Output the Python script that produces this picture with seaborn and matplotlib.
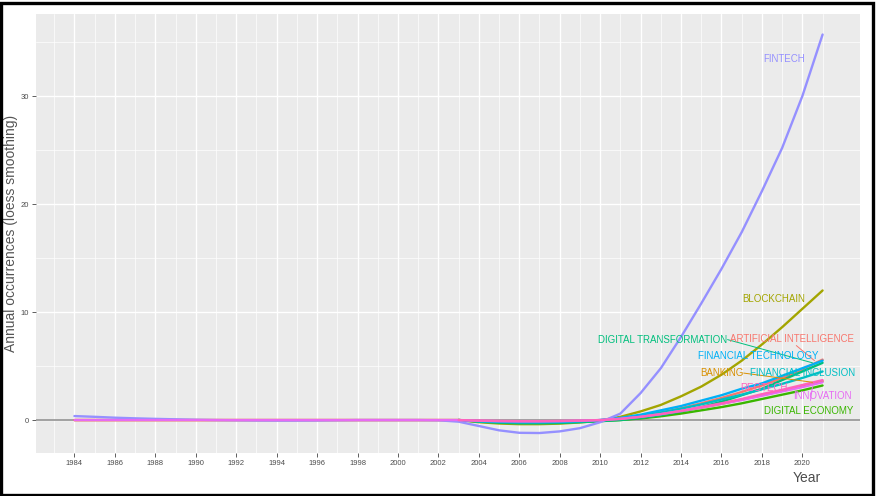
import matplotlib
matplotlib.use("Agg")
import matplotlib.pyplot as plt
import seaborn as sns
import pandas as pd
from matplotlib.patches import Rectangle

# ---------------- data ----------------
years_full = list(range(1984, 2022))
years_late = list(range(2003, 2022))

fintech = [0.37, 0.30, 0.22, 0.16, 0.11, 0.07, 0.03, 0.0, -0.02, -0.04,
           -0.05, -0.05, -0.04, -0.02, 0.0, 0.0, 0.0, 0.0, -0.02, -0.15,
           -0.55, -0.95, -1.18, -1.2, -1.05, -0.75, -0.2, 0.6, 2.5, 4.8,
           7.7, 10.8, 14.0, 17.4, 21.2, 25.2, 30.0, 35.7]
artificial_intelligence = [0.0] * 19 + [
    0.0, -0.08, -0.14, -0.17, -0.18, -0.16, -0.12, -0.05, 0.1, 0.35,
    0.7, 1.1, 1.55, 2.05, 2.6, 3.2, 3.9, 4.7, 5.6]
banking = [0.0] * 19 + [
    0.0, -0.12, -0.2, -0.24, -0.25, -0.22, -0.16, -0.05, 0.1, 0.3,
    0.55, 0.85, 1.15, 1.5, 1.9, 2.3, 2.7, 3.15, 3.6]
innovation = [0.0] * 19 + [
    0.0, -0.06, -0.1, -0.12, -0.12, -0.1, -0.06, 0.0, 0.12, 0.3,
    0.55, 0.85, 1.15, 1.5, 1.85, 2.25, 2.65, 3.05, 3.5]

blockchain = [0.0, -0.2, -0.32, -0.38, -0.38, -0.33, -0.22, -0.05, 0.3, 0.8,
              1.4, 2.2, 3.1, 4.2, 5.5, 7.0, 8.6, 10.3, 12.0]
digital_transformation = [0.0, -0.15, -0.25, -0.3, -0.3, -0.27, -0.2, -0.1, 0.0, 0.2,
                          0.45, 0.8, 1.2, 1.7, 2.3, 2.9, 3.7, 4.5, 5.3]
financial_technology = [0.0, -0.1, -0.16, -0.2, -0.2, -0.17, -0.1, 0.0, 0.2, 0.5,
                        0.9, 1.3, 1.8, 2.3, 2.9, 3.4, 4.1, 4.8, 5.5]
financial_inclusion = [0.0, -0.1, -0.15, -0.18, -0.18, -0.15, -0.1, 0.0, 0.15, 0.4,
                       0.7, 1.05, 1.45, 1.9, 2.35, 2.85, 3.35, 3.9, 4.5]
regtech = [0.0, -0.05, -0.08, -0.1, -0.1, -0.08, -0.05, 0.0, 0.1, 0.3,
           0.55, 0.85, 1.2, 1.55, 1.95, 2.4, 2.8, 3.25, 3.7]
digital_economy = [0.0, -0.1, -0.16, -0.2, -0.2, -0.18, -0.14, -0.1, 0.0, 0.15,
                   0.35, 0.6, 0.9, 1.2, 1.55, 1.95, 2.35, 2.75, 3.2]

keywords = ["ARTIFICIAL INTELLIGENCE", "BANKING", "BLOCKCHAIN", "DIGITAL ECONOMY",
            "DIGITAL TRANSFORMATION", "FINANCIAL INCLUSION", "FINANCIAL TECHNOLOGY",
            "FINTECH", "INNOVATION", "REGTECH"]
series = {
    "ARTIFICIAL INTELLIGENCE": (years_full, artificial_intelligence),
    "BANKING": (years_full, banking),
    "BLOCKCHAIN": (years_late, blockchain),
    "DIGITAL ECONOMY": (years_late, digital_economy),
    "DIGITAL TRANSFORMATION": (years_late, digital_transformation),
    "FINANCIAL INCLUSION": (years_late, financial_inclusion),
    "FINANCIAL TECHNOLOGY": (years_late, financial_technology),
    "FINTECH": (years_full, fintech),
    "INNOVATION": (years_full, innovation),
    "REGTECH": (years_late, regtech),
}
colors = ["#F8766D", "#D89000", "#A3A500", "#39B600", "#00BF7D",
          "#00BFC4", "#00B0F6", "#9590FF", "#E76BF3", "#FF62BC"]
x_breaks = list(range(1984, 2021, 2))
y_breaks = [0, 10, 20, 30]

rows = []
for kw in keywords:
    yrs, vals = series[kw]
    for yr, v in zip(yrs, vals):
        rows.append({"Year": yr, "value": v, "keyword": kw})
df = pd.DataFrame(rows)
palette = dict(zip(keywords, colors))

# label layout (repelled label positions, in data units)
label_pos = {
    "FINTECH": (2019.1, 33.4),
    "BLOCKCHAIN": (2018.6, 11.2),
    "DIGITAL TRANSFORMATION": (2013.1, 7.45),
    "ARTIFICIAL INTELLIGENCE": (2019.5, 7.5),
    "FINANCIAL TECHNOLOGY": (2017.8, 5.9),
    "BANKING": (2016.0, 4.35),
    "FINANCIAL INCLUSION": (2020.0, 4.4),
    "REGTECH": (2018.1, 3.0),
    "INNOVATION": (2021.0, 2.25),
    "DIGITAL ECONOMY": (2020.3, 0.85),
}
segments = {
    "DIGITAL TRANSFORMATION": ((2016.3, 7.45), (2020.5, 5.3)),
    "ARTIFICIAL INTELLIGENCE": ((2019.7, 6.9), (2020.6, 5.5)),
    "BANKING": ((2017.1, 4.35), (2020.5, 3.5)),
    "INNOVATION": ((2020.4, 1.8), (2020.5, 3.1)),
}

# ---------------- plot ----------------
sns.set_theme(style="white")
plt.rcParams["font.family"] = ["Liberation Sans", "DejaVu Sans"]

fig = plt.figure(figsize=(8.78, 4.96), dpi=100)
ax = fig.add_axes([36 / 878, 1 - 453 / 496, (860 - 36) / 878, (453 - 14) / 496])
ax.set_facecolor("#EBEBEB")

ax.axhline(0, color="#9A9A9A", lw=1.3, zorder=1)

sns.lineplot(data=df, x="Year", y="value", hue="keyword", hue_order=keywords,
             palette=palette, linewidth=1.7, legend=False, ax=ax, zorder=3)

for kw, (lx, ly) in label_pos.items():
    ax.text(lx, ly, kw, color=palette[kw], fontsize=7, ha="center", va="center",
            zorder=5)
for kw, ((x0, y0), (x1, y1)) in segments.items():
    ax.plot([x0, x1], [y0, y1], color=palette[kw], lw=0.7, zorder=4)

ax.set_xlim(1982.1, 2022.85)
ax.set_ylim(-3.05, 37.6)
ax.set_xticks(x_breaks)
ax.set_xticks(list(range(1983, 2023, 2)), minor=True)
ax.set_yticks(y_breaks)
ax.set_yticks([5, 15, 25, 35], minor=True)
ax.set_xticklabels([str(y) for y in x_breaks])
ax.grid(which="major", color="white", lw=1.0)
ax.grid(which="minor", color="white", lw=0.5)
ax.set_axisbelow(True)
for s in ax.spines.values():
    s.set_visible(False)
ax.tick_params(axis="both", which="major", labelsize=5.5, labelcolor="#4D4D4D",
               color="#444444", length=3, width=0.6, pad=2, bottom=True, left=True)
ax.tick_params(axis="both", which="minor", length=0)

ax.set_xlabel("Year", fontsize=10, color="#4D4D4D", ha="right")
ax.xaxis.set_label_coords((821 - 36) / 824, -0.04)
ax.set_ylabel("Annual occurrences (loess smoothing)", fontsize=10, color="#555555")
ax.yaxis.set_label_coords(-0.022, 0.5)

fig.patches.append(Rectangle((1.5 / 878, 1.5 / 496), 872 / 878, 492 / 496,
                             transform=fig.transFigure, fill=False,
                             edgecolor="black", lw=2.4, zorder=10))

fig.savefig("out.png", dpi=100, facecolor="white")
